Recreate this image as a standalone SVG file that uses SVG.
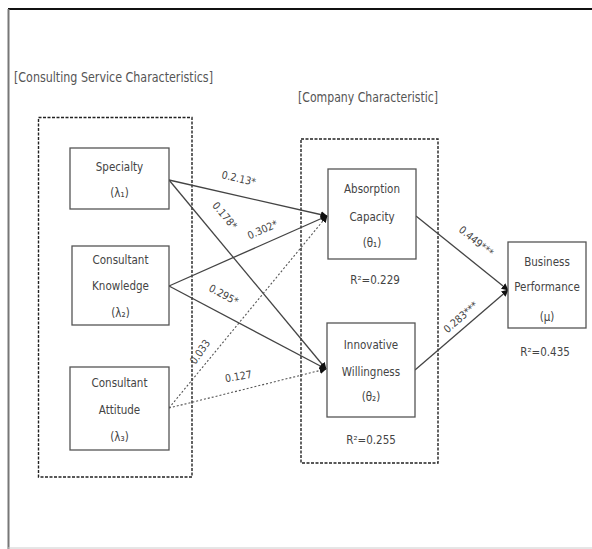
<svg xmlns="http://www.w3.org/2000/svg" width="592" height="549" viewBox="0 0 592 549">
<defs>
<style>
.t{font-family:"Liberation Sans Narrow","DejaVu Sans Condensed","Liberation Sans",sans-serif;fill:#444;text-anchor:middle}
.n{font-size:11.5px}
.h{font-size:14px;text-anchor:start;fill:#555}
.l{font-size:10.5px}
.box{fill:#fff;stroke:#555;stroke-width:1.3}
.grp{fill:none;stroke:#222;stroke-width:1.4;stroke-dasharray:3 1.5}
.c{fill:none;stroke:#444;stroke-width:1.3}
.d{fill:none;stroke:#555;stroke-width:1.1;stroke-dasharray:2 2}
</style>
<marker id="ah" viewBox="0 0 10 10" refX="9" refY="5" markerWidth="7" markerHeight="7" markerUnits="userSpaceOnUse" orient="auto">
<path d="M0,0 L10,5 L0,10 z" fill="#111"/>
</marker>
</defs>
<rect width="592" height="549" fill="#fff"/>
<g id="frame">
<line x1="8" y1="9" x2="592" y2="9" stroke="#111" stroke-width="2.2"/>
<line x1="8.5" y1="9" x2="8.5" y2="549" stroke="#777" stroke-width="2"/>
<line x1="8" y1="548" x2="592" y2="548" stroke="#ccc" stroke-width="1"/>
</g>
<g id="groups">
<text class="t h" x="14" y="82" textLength="199" lengthAdjust="spacingAndGlyphs">[Consulting Service Characteristics]</text>
<text class="t h" x="298" y="102" textLength="140" lengthAdjust="spacingAndGlyphs">[Company Characteristic]</text>
<rect class="grp" x="38.5" y="117.5" width="153.5" height="359.5"/>
<rect class="grp" x="301" y="139" width="137" height="324"/>
</g>
<g id="connectors">
<line class="c" x1="169" y1="180" x2="327" y2="216" marker-end="url(#ah)"/>
<line class="c" x1="169" y1="180" x2="326" y2="369" marker-end="url(#ah)"/>
<line class="c" x1="169" y1="286" x2="327" y2="216" marker-end="url(#ah)"/>
<line class="c" x1="169" y1="286" x2="326" y2="369" marker-end="url(#ah)"/>
<line class="d" x1="169" y1="408" x2="327" y2="216" marker-end="url(#ah)"/>
<line class="d" x1="169" y1="408" x2="326" y2="369" marker-end="url(#ah)"/>
<line class="c" x1="416" y1="216" x2="508" y2="290" marker-end="url(#ah)"/>
<line class="c" x1="415" y1="370" x2="508" y2="290" marker-end="url(#ah)"/>
<text class="t l" transform="translate(238,182) rotate(13)">0.2.13*</text>
<text class="t l" transform="translate(222,218) rotate(50)">0.178*</text>
<text class="t l" transform="translate(264,233) rotate(-24)">0.302*</text>
<text class="t l" transform="translate(222,298) rotate(28)">0.295*</text>
<text class="t l" transform="translate(203,354) rotate(-55)">0.033</text>
<text class="t l" transform="translate(239,380) rotate(-10)">0.127</text>
<text class="t l" transform="translate(474,244) rotate(39)">0.449***</text>
<text class="t l" transform="translate(463,320) rotate(-41)">0.283***</text>
</g>
<g id="specialty">
<rect class="box" x="70" y="148" width="99" height="61"/>
<text class="t n" x="119.5" y="171">Specialty</text>
<text class="t n" x="119.5" y="197">(λ₁)</text>
</g>
<g id="knowledge">
<rect class="box" x="72" y="246" width="97" height="79"/>
<text class="t n" x="120.5" y="264">Consultant</text>
<text class="t n" x="120.5" y="290">Knowledge</text>
<text class="t n" x="120.5" y="317">(λ₂)</text>
</g>
<g id="attitude">
<rect class="box" x="70" y="367" width="99" height="83"/>
<text class="t n" x="119.5" y="387">Consultant</text>
<text class="t n" x="119.5" y="414">Attitude</text>
<text class="t n" x="119.5" y="441">(λ₃)</text>
</g>
<g id="absorption">
<rect class="box" x="328" y="169" width="88" height="90"/>
<text class="t n" x="372" y="193">Absorption</text>
<text class="t n" x="372" y="221">Capacity</text>
<text class="t n" x="372" y="247">(θ₁)</text>
<text class="t n" x="375" y="284">R²=0.229</text>
</g>
<g id="innovative">
<rect class="box" x="327" y="323" width="88" height="94"/>
<text class="t n" x="371" y="349">Innovative</text>
<text class="t n" x="371" y="376">Willingness</text>
<text class="t n" x="371" y="401">(θ₂)</text>
<text class="t n" x="371" y="444">R²=0.255</text>
</g>
<g id="business">
<rect class="box" x="508" y="242" width="78" height="86"/>
<text class="t n" x="547" y="266">Business</text>
<text class="t n" x="547" y="291">Performance</text>
<text class="t n" x="547" y="321">(μ)</text>
<text class="t n" x="545" y="356">R²=0.435</text>
</g>
</svg>
